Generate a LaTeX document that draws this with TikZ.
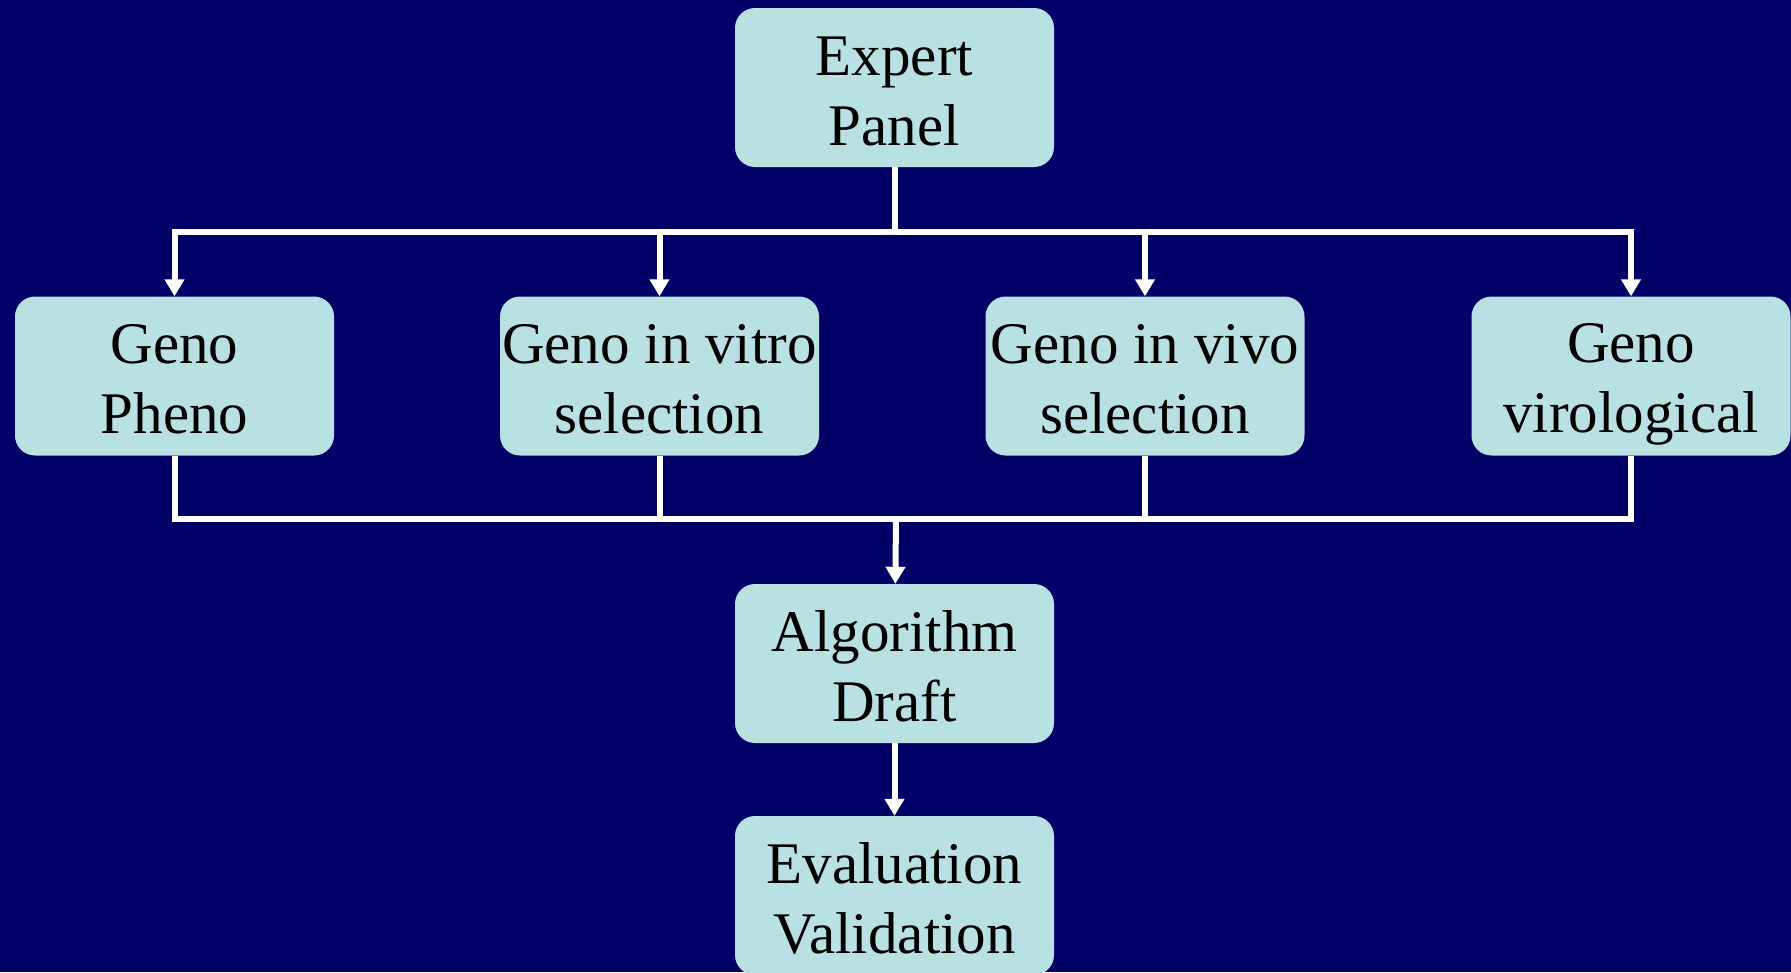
\documentclass[tikz,border=0pt]{standalone}
\usepackage{fontspec}
\setmainfont{Liberation Serif}
\usetikzlibrary{arrows.meta}
\definecolor{bg}{RGB}{0,0,102}
\definecolor{boxc}{RGB}{185,224,227}
\newcommand\lnstrut{\rule[-10pt]{0pt}{65pt}}
\begin{document}
\begin{tikzpicture}[x=1pt,y=-1pt,
  box/.style={fill=boxc, rounded corners=20pt, minimum width=319pt, minimum height=159pt,
    inner sep=0pt, align=center, font=\fontsize{59}{70}\selectfont, text=black},
  conn/.style={draw=white, line width=6pt},
  arr/.style={conn, -{Triangle[width=19pt,length=17pt]}}]
\fill[bg] (0,0) rectangle (1791,972);
\useasboundingbox (0,0) rectangle (1791,972);
\node[box] (ep) at (894.5,87.5) {\lnstrut Expert\\\lnstrut Panel};
\node[box] (gp) at (174.5,376) {\lnstrut Geno\\\lnstrut Pheno};
\node[box] (gvt) at (659.5,376) {\lnstrut Geno in vitro\\\lnstrut selection};
\node[box] (gvv) at (1145,376) {\lnstrut Geno in vivo\\\lnstrut selection};
\node[box] (gv) at (1631,376) {\lnstrut Geno\\\lnstrut virological};
\node[box] (ad) at (894.5,663.5) {\lnstrut Algorithm\\\lnstrut Draft};
\node[box] (ev) at (894.5,895.5) {\lnstrut Evaluation\\\lnstrut Validation};
\coordinate (top) at (896,232);
\coordinate (bot) at (896,519);
\draw[conn] (ep) -- (ep |- top);
\draw[conn, line cap=rect] (top -| gp) -- (top -| gv);
\draw[arr] (top -| gp) -- (gp);
\draw[arr] (top -| gvt) -- (gvt);
\draw[arr] (top -| gvv) -- (gvv);
\draw[arr] (top -| gv) -- (gv);
\draw[conn, line join=miter] (gp) -- (gp |- bot) -- (gv |- bot) -- (gv);
\draw[conn] (gvt) -- (gvt |- bot);
\draw[conn] (gvv) -- (gvv |- bot);
\draw[arr] (bot) -- (ad);
\draw[arr] (ad) -- (ev);
\end{tikzpicture}
\end{document}
